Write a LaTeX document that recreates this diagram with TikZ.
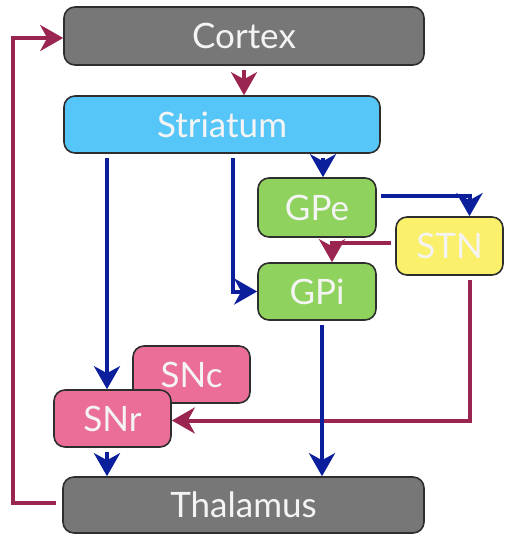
\documentclass[tikz,border=0pt]{standalone}
\usepackage{fontspec}
\setmainfont{Lato}
\usetikzlibrary{arrows.meta,calc}
\definecolor{cgray}{HTML}{777777}
\definecolor{cblue}{HTML}{55C6F7}
\definecolor{cgreen}{HTML}{8FD35E}
\definecolor{cyellow}{HTML}{FAF06C}
\definecolor{cpink}{HTML}{EA6E98}
\definecolor{cborder}{HTML}{2E2E2E}
\definecolor{anavy}{HTML}{0B1F9C}
\definecolor{amaroon}{HTML}{992550}
\definecolor{ctext}{HTML}{F4F4F4}
\tikzset{
  box/.style={draw=cborder, line width=1.6pt, rounded corners=11pt, text=ctext,
    font=\fontsize{35}{38}\selectfont, inner sep=0pt},
  exc/.style={draw=amaroon, line width=4pt, -{Stealth[length=23pt,width=26pt,inset=7pt]}, shorten <=4pt},
  inh/.style={draw=anavy, line width=4pt, -{Stealth[length=23pt,width=26pt,inset=7pt]}, shorten <=4pt}
}
\begin{document}
\begin{tikzpicture}[x=1pt,y=-1pt]
\useasboundingbox (0,0) rectangle (506,535);
\node[box, fill=cgray, minimum width=360pt, minimum height=58pt] (Cortex) at (244,36) {Cortex};
\node[box, fill=cblue, minimum width=316pt, minimum height=57pt] (Striatum) at (222,124.5) {Striatum};
\node[box, fill=cgreen, minimum width=118pt, minimum height=59pt] (GPe) at (317,207.5) {GPe};
\node[box, fill=cgreen, minimum width=118pt, minimum height=57pt] (GPi) at (317,291.5) {GPi};
\node[box, fill=cyellow, minimum width=107pt, minimum height=58pt] (STN) at (449.5,246) {STN};
\node[box, fill=cpink, minimum width=117pt, minimum height=57pt] (SNc) at (191.5,374.5) {SNc};
\node[box, fill=cpink, minimum width=117pt, minimum height=57pt] (SNr) at (112.5,418.5) {SNr};
\node[box, fill=cgray, minimum width=361pt, minimum height=56pt] (Thalamus) at (243.5,505) {Thalamus};
\coordinate (lx) at (13,0);
% connectors
\draw[exc] (Cortex.south) -- (Cortex.south |- Striatum.north);
\draw[inh] ([xshift=6pt]GPe.north |- Striatum.south) -- ([xshift=6pt]GPe.north);
\draw[inh] ([yshift=12pt]GPe.east) -| ([xshift=20pt]STN.north);
\draw[exc] ([yshift=3pt]STN.west) -| ([xshift=15pt]GPi.north);
\draw[inh] ([xshift=11pt]Striatum.south) |- (GPi.west);
\draw[inh] ([xshift=-5.5pt]SNr.north |- Striatum.south) -- ([xshift=-5.5pt]SNr.north);
\draw[exc] ([xshift=20pt]STN.south) |- ([yshift=-2pt]SNr.east);
\draw[inh] ([xshift=5pt]GPi.south) -- ([xshift=5pt]GPi.south |- Thalamus.north);
\draw[inh] ([xshift=-5.5pt]SNr.south) -- ([xshift=-5.5pt]SNr.south |- Thalamus.north);
\draw[exc, shorten <=6pt] ([yshift=2pt]Thalamus.west) -- ([yshift=2pt]Thalamus.west -| lx) |- ([yshift=-2pt]Cortex.west);
\end{tikzpicture}
\end{document}
